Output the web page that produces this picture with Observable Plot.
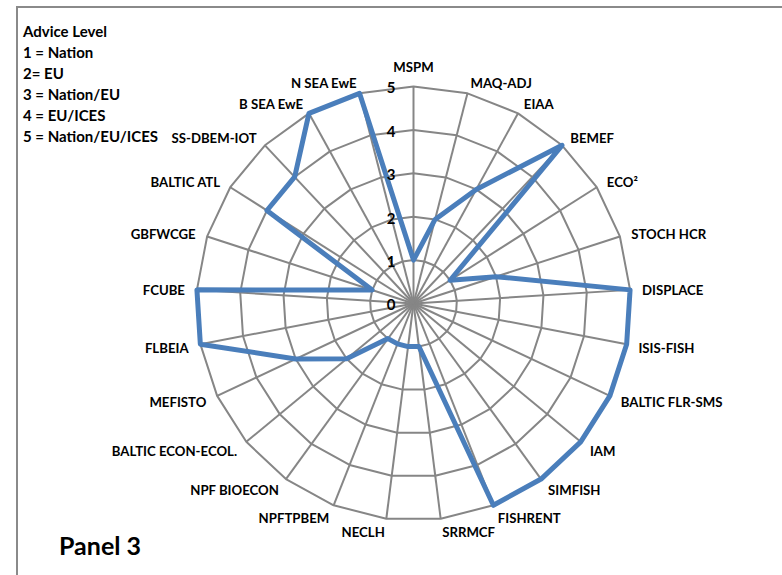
<!DOCTYPE html>
<html>
<head>
<meta charset="utf-8">
<script src="https://cdn.jsdelivr.net/npm/d3@7"></script>
<script src="https://cdn.jsdelivr.net/npm/@observablehq/plot@0.6"></script>
<style>
  html, body { margin: 0; padding: 0; background: #fff; }
  #wrap { position: relative; width: 782px; height: 575px; overflow: hidden; font-family: Lato, "Open Sans", sans-serif; }
  #chart { position: absolute; left: 0; top: 0; }
  #frame { position: absolute; left: 16px; top: 6px; width: 900px; height: 700px;
           border-left: 2px solid #8a8a8a; border-top: 2px solid #8a8a8a; }
  #legend { position: absolute; left: 23px; top: 21px; font-weight: 700; font-size: 15px;
            line-height: 21px; color: #000; white-space: nowrap; }
  #panel { position: absolute; left: 59px; top: 530px; font-weight: 700; font-size: 25px; color: #000; }
</style>
</head>
<body>
<div id="wrap">
  <div id="frame"></div>
  <div id="chart"></div>
  <div id="legend"></div>
  <div id="panel"></div>
</div>
<script>
// ---- data ----
const models = ["MSPM", "MAQ-ADJ", "EIAA", "BEMEF", "ECO²", "STOCH HCR", "DISPLACE", "ISIS-FISH",
  "BALTIC FLR-SMS", "IAM", "SIMFISH", "FISHRENT", "SRRMCF", "NECLH", "NPFTPBEM", "NPF BIOECON",
  "BALTIC ECON-ECOL.", "MEFISTO", "FLBEIA", "FCUBE", "GBFWCGE", "BALTIC ATL", "SS-DBEM-IOT",
  "B SEA EwE", "N SEA EwE"];
const adviceLevel = [1, 2, 3, 5, 1, 2, 5, 5, 5, 5, 5, 5, 1, 1, 1, 1, 2, 3, 5, 5, 1, 4, 4, 5, 5];
const tickLevels = [0, 1, 2, 3, 4, 5];
const legendTitle = "Advice Level";
const legendLines = ["1 = Nation", "2= EU", "3 = Nation/EU", "4 = EU/ICES", "5 = Nation/EU/ICES"];
const panelLabel = "Panel 3";

// ---- layout ----
const W = 782, H = 575;
const CX = 413, CY = 303;      // centre of the radar, px
const PX = 43.4;               // px per advice level unit
const maxLevel = d3.max(tickLevels);
const labelR = maxLevel * 229 / 217;

const n = models.length;
const ang = i => i * 2 * Math.PI / n;

const rows = models.map((m, i) => ({model: m, value: adviceLevel[i], a: ang(i)}));
const rings = tickLevels.filter(l => l > 0).flatMap(l =>
  models.map((m, i) => ({level: l, x: l * Math.sin(ang(i)), y: l * Math.cos(ang(i))})));
const spokes = models.map((m, i) => ({x: maxLevel * Math.sin(ang(i)), y: maxLevel * Math.cos(ang(i))}));
const labels = models.map((m, i) => ({model: m, s: Math.sin(ang(i)), x: labelR * Math.sin(ang(i)), y: labelR * Math.cos(ang(i))}));

const grey = "#868686";
const blue = "#4a7ebb";
const font = "Lato, 'Open Sans', sans-serif";
const fs = 13.2;

const chart = Plot.plot({
  width: W, height: H,
  margin: 0,
  style: {fontFamily: font, background: "transparent", overflow: "visible"},
  x: {type: "linear", domain: [-CX / PX, (W - CX) / PX], axis: null},
  y: {type: "linear", domain: [-(H - CY) / PX, CY / PX], axis: null},
  marks: [
    Plot.line(rings, {x: "x", y: "y", z: "level", curve: "linear-closed", stroke: grey, strokeWidth: 2}),
    Plot.link(spokes, {x1: d => 0, y1: d => 0, x2: "x", y2: "y", stroke: grey, strokeWidth: 2}),
    Plot.line(rows, {x: d => d.value * Math.sin(d.a), y: d => d.value * Math.cos(d.a),
      curve: "linear-closed", stroke: blue, strokeWidth: 5, strokeLinejoin: "round"}),
    Plot.text(tickLevels, {x: d => 0, y: d => d, text: d => String(d), textAnchor: "end",
      dx: -18, dy: 2, fontWeight: "bold", fontSize: 15, fill: "#000"}),
    Plot.text(labels.filter(d => d.s > 0.01), {x: "x", y: "y", text: "model", textAnchor: "start",
      dy: 2, fontWeight: "bold", fontSize: fs, fill: "#000"}),
    Plot.text(labels.filter(d => d.s < -0.01), {x: "x", y: "y", text: "model", textAnchor: "end",
      dy: 2, fontWeight: "bold", fontSize: fs, fill: "#000"}),
    Plot.text(labels.filter(d => Math.abs(d.s) <= 0.01), {x: "x", y: "y", text: "model", textAnchor: "middle",
      dy: -7, fontWeight: "bold", fontSize: fs, fill: "#000"})
  ]
});
document.getElementById("chart").appendChild(chart);

document.getElementById("legend").innerHTML =
  [legendTitle, ...legendLines].map(t => `<div>${t}</div>`).join("");
document.getElementById("panel").textContent = panelLabel;
</script>
</body>
</html>
